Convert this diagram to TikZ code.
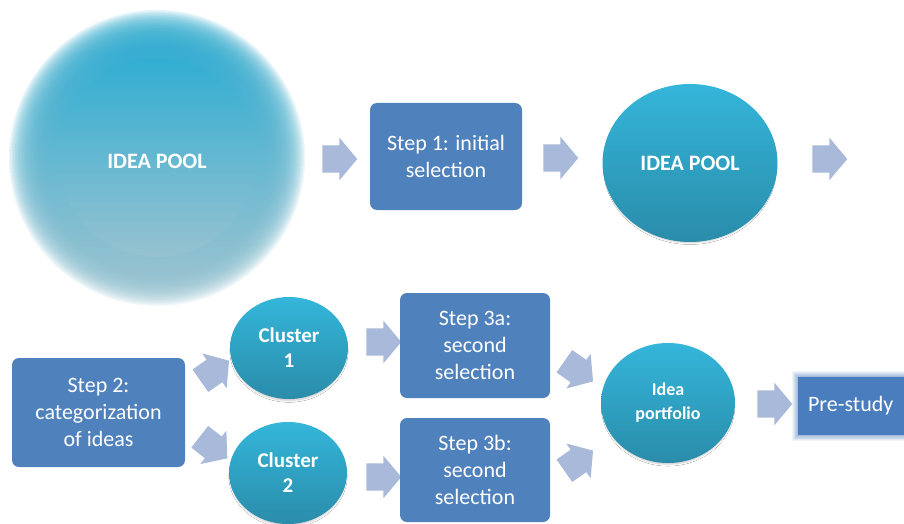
\documentclass[tikz,border=0pt]{standalone}
\usepackage{fontspec}
\setmainfont{Carlito}
\usetikzlibrary{shapes.arrows,shapes.geometric,shadows.blur}
\definecolor{boxc}{RGB}{79,129,189}
\definecolor{prec}{RGB}{74,125,190}
\definecolor{arrc}{RGB}{169,185,217}
\definecolor{tealA}{RGB}{52,182,218}
\definecolor{tealB}{RGB}{42,140,170}
\definecolor{poolA}{RGB}{50,174,210}
\definecolor{poolM}{RGB}{76,170,203}
\definecolor{poolB}{RGB}{150,194,208}
\tikzset{
 stepbox/.style={rectangle, rounded corners=7pt, fill=boxc, text=white, align=center,
   font=\fontsize{22}{27}\selectfont, inner sep=0pt},
 bubble/.style={ellipse, top color=tealA, bottom color=tealB, text=white, align=center,
   font=\bfseries\fontsize{21}{25}\selectfont, inner sep=0pt,
   blur shadow={shadow xshift=0pt, shadow yshift=-3pt, shadow scale=0.97, shadow blur radius=2pt, shadow opacity=22}},
 blockarrow/.style={single arrow, fill=arrc, draw=none, minimum height=35pt,
   single arrow head extend=7.5pt, single arrow tip angle=100, inner sep=0pt,
   text height=27pt, text depth=0pt, text width=0pt},
 btext/.style={text=white, align=center, font=\bfseries\fontsize{22}{26}\selectfont}
}
\begin{document}
\begin{tikzpicture}[x=1pt,y=-1pt]
\useasboundingbox (0,0) rectangle (904,524);
\fill[white] (0,0) rectangle (904,524);
% big soft pool
\coordinate (bigc) at (157,158);
\foreach \i in {0,...,32}{
  \pgfmathsetmacro\rr{148-1.5*\i}
  \shade[top color=poolA, middle color=poolM, bottom color=poolB, fill opacity=0.12] (bigc) circle (\rr pt);
}
\shade[top color=poolA, middle color=poolM, bottom color=poolB] (bigc) circle (99pt);
\node[btext] (pool1) at (157,161) {IDEA POOL};

\node[blockarrow] (a1) at (334,159) {};
\node[stepbox, minimum width=152pt, minimum height=107pt] (s1) at (446,156.5) {Step 1: initial\\selection};
\node[blockarrow] (a2) at (555,158) {};
\node[bubble, minimum width=175pt, minimum height=158pt, font=\bfseries\fontsize{22}{26}\selectfont] (pool2) at (690,163) {IDEA POOL};
\node[blockarrow] (a3) at (824,159) {};

\node[stepbox, minimum width=173pt, minimum height=109pt] (s2) at (98.5,412.5) {Step 2:\\categorization\\of ideas};
\node[blockarrow, rotate=35] (a4) at (210,374) {};
\node[blockarrow, rotate=-38] (a5) at (209,444) {};
\node[bubble, minimum width=118pt, minimum height=102pt] (c1) at (289,348) {Cluster\\1};
\node[bubble, minimum width=118pt, minimum height=102pt] (c2) at (288,473) {Cluster\\2};
\node[blockarrow] (a6) at (378,342) {};
\node[blockarrow] (a7) at (378,477) {};
\node[stepbox, minimum width=150pt, minimum height=105pt] (s3a) at (475,345.5) {Step 3a:\\second\\selection};
\node[stepbox, minimum width=150pt, minimum height=104pt] (s3b) at (475,470) {Step 3b:\\second\\selection};
\node[blockarrow, rotate=-35] (a8) at (574,368) {};
\node[blockarrow, rotate=35] (a9) at (574,464) {};
\node[bubble, minimum width=134pt, minimum height=120pt, font=\bfseries\fontsize{18}{24}\selectfont] (port) at (668,403) {Idea\\portfolio};
\node[blockarrow] (a10) at (769,404) {};

% pre-study with soft edge
\foreach \d in {1,...,8}{
  \fill[prec, fill opacity=0.08] (798-0.7*\d,377-0.7*\d) rectangle (910,435+0.7*\d);
}
\node[rectangle, fill=prec, minimum width=112pt, minimum height=58pt, inner sep=0pt,
  text=white, font=\fontsize{22}{27}\selectfont, anchor=west] (pre) at (798,406) {\hspace*{1pt}Pre-study\hspace*{8pt}};
\end{tikzpicture}
\end{document}
